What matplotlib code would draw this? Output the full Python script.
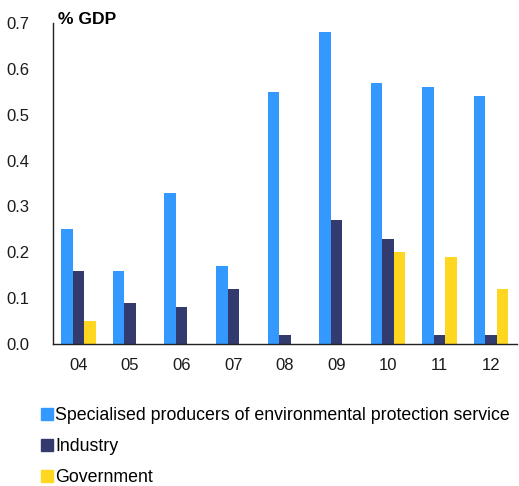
import matplotlib
matplotlib.use("Agg")
import matplotlib.pyplot as plt
import numpy as np
from matplotlib.patches import Patch

plt.rcParams['font.family'] = ['Liberation Sans', 'DejaVu Sans']

years = ["04", "05", "06", "07", "08", "09", "10", "11", "12"]
specialised = [0.25, 0.16, 0.33, 0.17, 0.55, 0.68, 0.57, 0.56, 0.54]
industry = [0.16, 0.09, 0.08, 0.12, 0.02, 0.27, 0.23, 0.02, 0.02]
government = [0.05, 0.0, 0.0, 0.0, 0.0, 0.0, 0.20, 0.19, 0.12]
series_names = ["Specialised producers of environmental protection service",
                "Industry", "Government"]
colors = ["#3399FF", "#333A6E", "#FFD620"]

fig = plt.figure(figsize=(5.19, 4.86), dpi=100)
ax = fig.add_axes([52.7/519, 1-344/486, (517-52.7)/519, (344-23)/486])

x = np.arange(len(years))
w = 0.223
for i, (vals, c) in enumerate(zip([specialised, industry, government], colors)):
    ax.bar(x + (i-1)*w, vals, width=w, color=c, linewidth=0)

ax.set_xlim(-0.5, len(years)-0.5)
ax.set_ylim(0, 0.7)
ax.set_yticks(np.arange(0, 0.71, 0.1))
ax.set_yticklabels([f"{v:.1f}" for v in np.arange(0, 0.71, 0.1)])
ax.set_xticks(x)
ax.set_xticklabels(years)
ax.tick_params(axis='both', length=0, labelsize=12, colors='#1a1a1a')
ax.tick_params(axis='y', pad=17)
ax.tick_params(axis='x', pad=10)
for s in ['top', 'right']:
    ax.spines[s].set_visible(False)
for s in ['left', 'bottom']:
    ax.spines[s].set_color('#222222')
    ax.spines[s].set_linewidth(1.0)

fig.text(58/519, 1-19/486, "% GDP", fontsize=12.6, fontweight='bold', va='center', ha='left')

handles = [Patch(color=c) for c in colors]
fig.legend(handles, series_names, loc='upper left', bbox_to_anchor=(34/519, 1-400/486),
           frameon=False, fontsize=12.8, handlelength=0.65, handleheight=0.65,
           handletextpad=0.15, labelspacing=0.78, borderaxespad=0)

fig.savefig("out.png", dpi=100)
